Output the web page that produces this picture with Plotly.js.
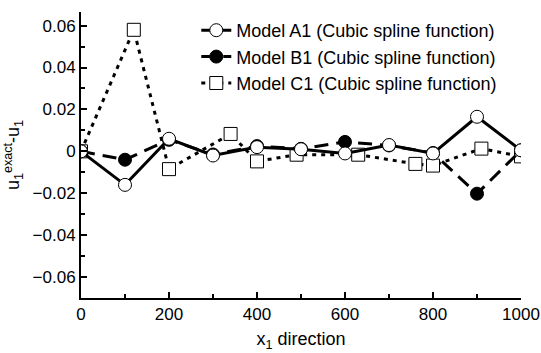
<!DOCTYPE html>
<html>
<head>
<meta charset="utf-8">
<script src="https://cdn.plot.ly/plotly-3.0.1.min.js"></script>
<style>html,body{margin:0;padding:0;background:#fff;}#chart{width:541px;height:353px;}</style>
</head>
<body>
<div id="chart"></div>
<script>
// Data
var seriesNames = ["Model A1 (Cubic spline function)", "Model B1 (Cubic spline function)", "Model C1 (Cubic spline function)"];
var xA = [0, 100, 200, 300, 400, 500, 600, 700, 800, 900, 1000];
var yA = [0, -0.016, 0.006, -0.002, 0.002, 0.001, -0.001, 0.003, -0.001, 0.0165, 0.0005];
var xB = [0, 100, 200, 300, 400, 500, 600, 700, 800, 900, 1000];
var yB = [0, -0.004, 0.0055, -0.0015, 0.0025, 0.0012, 0.0045, 0.0028, -0.0008, -0.0202, 0.0005];
var xC = [0, 120, 200, 340, 400, 490, 630, 760, 800, 910, 1000];
var yC = [0, 0.058, -0.0085, 0.0083, -0.0048, -0.0016, -0.0016, -0.006, -0.0068, 0.0013, -0.0024];
var xTicks = [0, 200, 400, 600, 800, 1000];
var yTicks = [-0.06, -0.04, -0.02, 0, 0.02, 0.04, 0.06];
var yTickLabels = ["\u22120.06", "\u22120.04", "\u22120.02", "0", "0.02", "0.04", "0.06"];

var font = "Liberation Sans, Arial, sans-serif";
var traces = [
  {x: xC, y: yC, name: seriesNames[2], mode: "lines+markers",
   line: {color: "#000", width: 3, dash: "4px,5px"},
   marker: {symbol: "square", size: 13, color: "#fff", line: {color: "#000", width: 1}}},
  {x: xB, y: yB, name: seriesNames[1], mode: "lines+markers",
   line: {color: "#000", width: 3, dash: "14px,8px"},
   marker: {symbol: "circle", size: 13, color: "#000", line: {color: "#000", width: 1}}},
  {x: xA, y: yA, name: seriesNames[0], mode: "lines+markers",
   line: {color: "#000", width: 3},
   marker: {symbol: "circle", size: 13, color: "#fff", line: {color: "#000", width: 1}}}
];
var layout = {
  width: 541, height: 353,
  margin: {l: 81, r: 20, t: 12, b: 55},
  paper_bgcolor: "#fff", plot_bgcolor: "#fff",
  font: {family: font, size: 17, color: "#000"},
  showlegend: true,
  legend: {x: 0.262, xanchor: "left", y: 1.0, yanchor: "top", traceorder: "reversed",
           bgcolor: "rgba(0,0,0,0)", font: {family: font, size: 18, color: "#000"},
           itemwidth: 30, tracegroupgap: 0},
  xaxis: {range: [0, 1000], tickvals: xTicks, ticks: "inside", ticklen: 6, tickwidth: 2,
          showline: true, linecolor: "#000", linewidth: 2, showgrid: false, zeroline: false,
          minor: {dtick: 100, ticks: "inside", ticklen: 4, tickwidth: 2, tickcolor: "#000"},
          tickcolor: "#000", tickfont: {size: 17},
          title: {text: "x<sub>1</sub> direction", font: {size: 18}, standoff: 9}},
  yaxis: {range: [-0.07, 0.0665], tickvals: yTicks, ticktext: yTickLabels, ticks: "inside", ticklen: 6, tickwidth: 2,
          showline: true, linecolor: "#000", linewidth: 2, showgrid: false, zeroline: false,
          minor: {dtick: 0.01, ticks: "inside", ticklen: 4, tickwidth: 2, tickcolor: "#000"},
          tickcolor: "#000", tickfont: {size: 17},
          title: {text: "u<sub>1</sub><sup>exact</sup>-u<sub>1</sub>", font: {size: 18}, standoff: 8}}
};
Plotly.newPlot("chart", traces, layout, {displayModeBar: false, staticPlot: true});
</script>
</body>
</html>
